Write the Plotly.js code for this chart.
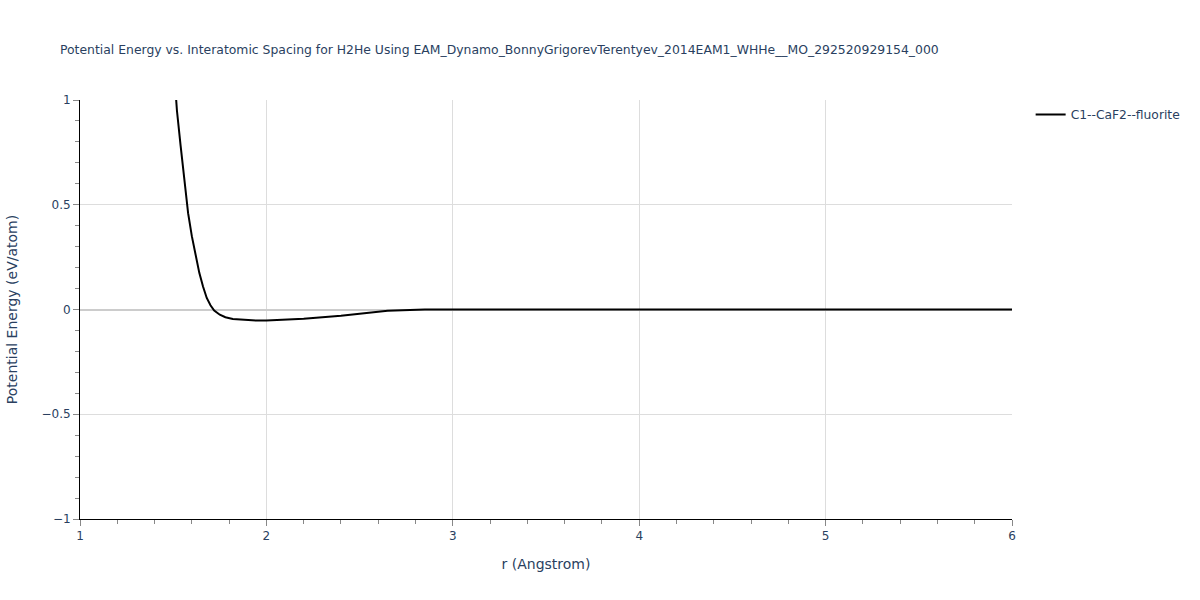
<!DOCTYPE html>
<html>
<head>
<meta charset="utf-8">
<script src="https://cdn.plot.ly/plotly-3.0.1.min.js"></script>
<style>body{margin:0;padding:0;background:#fff;}#chart{width:1200px;height:600px;}</style>
</head>
<body>
<div id="chart"></div>
<script>
const seriesName = "C1--CaF2--fluorite";
const rValues = [1.50, 1.52, 1.54, 1.56, 1.58, 1.60, 1.62, 1.64, 1.66, 1.68, 1.70, 1.72, 1.75, 1.78, 1.82, 1.88, 1.95, 2.0, 2.2, 2.4, 2.5, 2.65, 2.85, 3.0, 3.5, 4.0, 4.5, 5.0, 5.5, 6.0];
const energyValues = [1.20, 0.95, 0.78, 0.61, 0.46, 0.35, 0.26, 0.175, 0.11, 0.055, 0.02, -0.005, -0.025, -0.037, -0.045, -0.05, -0.053, -0.053, -0.044, -0.030, -0.021, -0.006, 0.0, 0.0, 0.0, 0.0, 0.0, 0.0, 0.0, 0.0];
const titleText = "Potential Energy vs. Interatomic Spacing for H2He Using EAM_Dynamo_BonnyGrigorevTerentyev_2014EAM1_WHHe__MO_292520929154_000";

const trace = {
  x: rValues, y: energyValues, type: 'scatter', mode: 'lines',
  name: seriesName, line: {color: 'black', width: 2}, showlegend: true
};
const layout = {
  width: 1200, height: 600,
  paper_bgcolor: 'white', plot_bgcolor: 'white',
  margin: {l: 80, r: 188, t: 100, b: 81},
  font: {family: 'Verdana, "DejaVu Sans", sans-serif', color: '#2a3f5f', size: 12},
  title: {text: titleText, x: 0.05, xanchor: 'left', y: 0.925, font: {size: 12.4, color: '#2a3f5f'}},
  xaxis: {
    range: [1, 6], title: {text: 'r (Angstrom)', font: {size: 14}, standoff: 16},
    showline: true, linecolor: 'black', linewidth: 1,
    gridcolor: '#dddddd', ticks: 'outside', ticklen: 6, tickcolor: '#888',
    dtick: 1, zeroline: false, automargin: false,
    minor: {dtick: 0.2, ticks: 'outside', ticklen: 4, tickcolor: '#888', showgrid: false}
  },
  yaxis: {
    range: [-1, 1], title: {text: 'Potential Energy (eV/atom)', font: {size: 14}, standoff: 20},
    showline: true, linecolor: 'black', linewidth: 1,
    gridcolor: '#dddddd', ticks: 'outside', ticklen: 6, tickcolor: '#888',
    dtick: 0.5, zeroline: true, zerolinecolor: '#cccccc', zerolinewidth: 2, automargin: false,
    minor: {dtick: 0.1, ticks: 'outside', ticklen: 4, tickcolor: '#888', showgrid: false}
  },
  legend: {x: 1.02, y: 1, xanchor: 'left', yanchor: 'top', font: {size: 12.3}}
};
Plotly.newPlot('chart', [trace], layout, {displayModeBar: false});
</script>
</body>
</html>
